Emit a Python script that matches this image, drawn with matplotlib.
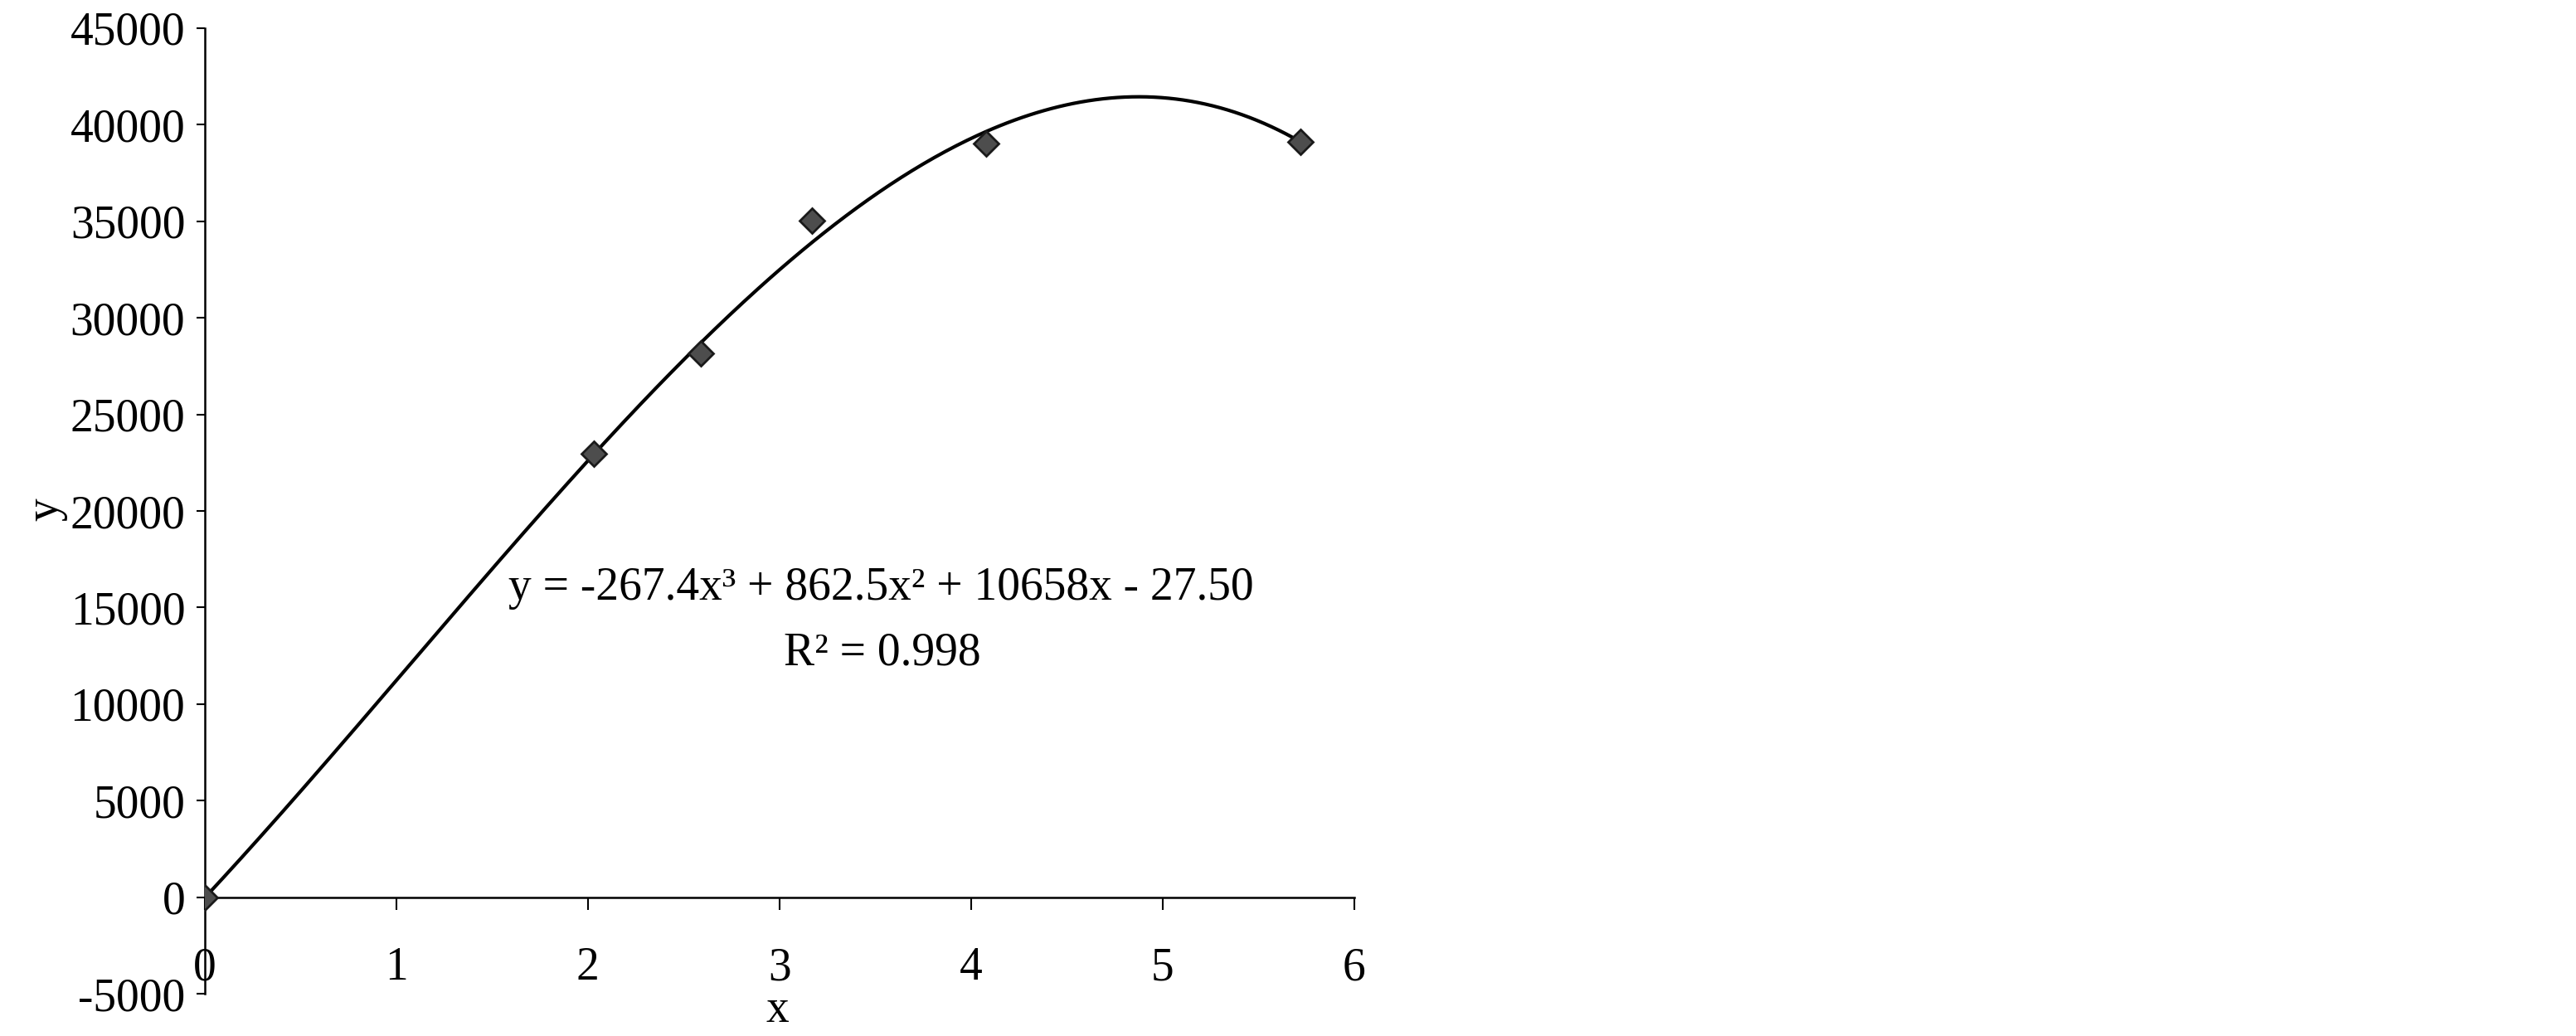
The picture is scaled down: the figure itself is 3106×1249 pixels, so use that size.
import numpy as np
import matplotlib
matplotlib.use("Agg")
import matplotlib.pyplot as plt

# measured points
x_pts = [0.0, 2.03, 2.59, 3.17, 4.08, 5.72]
y_pts = [0, 22970, 28160, 35040, 39040, 39120]

# trendline coefficients as printed on the chart (cubic, highest power first)
coef = [-267.4, 862.5, 10658, -27.50]
eq_text = "y = -267.4x³ + 862.5x² + 10658x - 27.50"
r2_text = "R² = 0.998"

x_ticks = [0, 1, 2, 3, 4, 5, 6]
y_ticks = [-5000, 0, 5000, 10000, 15000, 20000, 25000, 30000, 35000, 40000, 45000]

plt.rcParams['font.family'] = ['Liberation Serif', 'DejaVu Serif']

fig = plt.figure(figsize=(31.06, 12.49), dpi=100)
ax = fig.add_axes([0.0795, 0.0408, 0.4462, 0.932])

xs = np.linspace(0, x_pts[-1], 300)
ax.plot(xs, np.polyval(coef, xs), color='black', lw=3, zorder=2)
ax.plot(x_pts, y_pts, 'D', ms=15, mfc='#4d4d4d', mec='#1a1a1a', mew=2, zorder=3)

ax.set_xlim(0, 6)
ax.set_ylim(-5000, 45000)
ax.set_xticks(x_ticks)
ax.set_yticks(y_ticks)
ax.set_xticklabels([str(v) for v in x_ticks])
ax.set_yticklabels([str(v) for v in y_ticks])

ax.spines['top'].set_visible(False)
ax.spines['right'].set_visible(False)
ax.spines['bottom'].set_position(('data', 0))
ax.spines['bottom'].set_linewidth(1.8)
ax.spines['left'].set_linewidth(1.8)

ax.tick_params(axis='x', direction='out', length=11, width=1.5, pad=32, labelsize=40)
ax.tick_params(axis='y', direction='out', length=7, width=1.5, pad=10, labelsize=40)

fig.text(937 / 3106, 1 - 1218 / 1249, "x", fontsize=40, ha='center', va='center')
fig.text(55 / 3106, 1 - 614 / 1249, "y", fontsize=40, ha='center', va='center', rotation=90)

fig.text(1062 / 3106, 1 - 709 / 1249, eq_text, fontsize=40, ha='center', va='center')
fig.text(1064 / 3106, 1 - 788 / 1249, r2_text, fontsize=40, ha='center', va='center')

fig.savefig("out.png", dpi=100, facecolor='white')
